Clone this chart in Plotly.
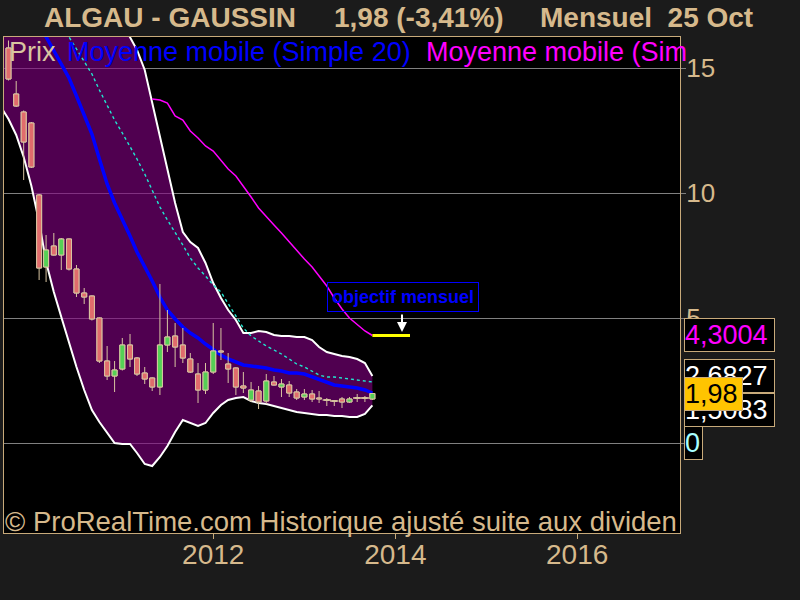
import plotly.graph_objects as go
import pandas as pd

# ---------------- data ----------------
candle_months = pd.date_range("2009-10-01", periods=49, freq="MS")
band_months = pd.date_range("2009-09-01", periods=50, freq="MS")

opens = [15.8, 13.96, 13.24, 12.8, 9.92, 7.04, 7.88, 7.52, 8.16, 6.96,
         6.0, 5.88, 5.0, 3.28, 2.68, 2.96, 3.92, 3.4, 2.8, 2.6,
         2.24, 3.92, 4.28, 3.92, 3.36, 2.76, 2.12, 2.84, 3.68, 3.16,
         3.0, 2.28, 1.72, 2.08, 1.68, 2.44, 2.24, 2.32, 2.04, 1.84,
         1.96, 1.8, 1.72, 1.68, 1.76, 1.64, 1.8, 1.8, 1.76]
highs = [16.1, 14.48, 13.3, 12.84, 9.96, 8.32, 8.4, 8.2, 8.18, 7.12,
         6.2, 5.9, 5.02, 3.88, 3.28, 4.2, 4.36, 3.44, 3.04, 2.62,
         6.36, 5.32, 4.8, 4.6, 3.6, 3.2, 3.2, 4.8, 4.6, 3.6,
         3.02, 2.84, 2.44, 2.28, 2.76, 2.68, 2.56, 2.48, 2.16, 2.16,
         2.12, 2.08, 1.8, 1.7, 1.84, 1.84, 1.96, 1.88, 2.0]
lows = [14.5, 13.44, 10.52, 11.0, 6.52, 6.44, 7.5, 6.92, 6.9, 5.84,
        5.56, 4.9, 3.2, 2.52, 2.04, 2.9, 3.04, 2.68, 2.36, 2.08,
        1.92, 3.64, 3.04, 3.2, 2.8, 1.6, 1.96, 2.76, 3.32, 2.4,
        1.92, 2.0, 1.64, 1.36, 1.56, 2.3, 1.84, 1.84, 1.72, 1.72,
        1.64, 1.6, 1.48, 1.48, 1.4, 1.6, 1.64, 1.64, 1.72]
closes = [14.56, 13.48, 12.04, 11.04, 7.0, 7.72, 7.52, 8.16, 6.96, 6.0,
          5.84, 4.96, 3.28, 2.68, 2.92, 3.92, 3.36, 2.76, 2.56, 2.24,
          3.92, 4.24, 3.84, 3.4, 2.84, 2.12, 2.84, 3.68, 3.64, 2.96,
          2.24, 2.2, 2.12, 1.64, 2.48, 2.32, 2.36, 2.0, 1.8, 1.96,
          1.76, 1.76, 1.72, 1.68, 1.64, 1.76, 1.8, 1.8, 1.98]

sma20 = [19.48, 18.94, 18.4, 17.86, 17.32, 16.78, 16.24, 15.72, 15.16, 14.6,
         13.88, 13.16, 12.36, 11.36, 10.36, 9.6, 8.96, 8.28, 7.64, 7.08,
         6.48, 5.84, 5.32, 4.96, 4.64, 4.4, 4.2, 3.96, 3.72, 3.52,
         3.36, 3.24, 3.12, 3.08, 3.04, 3.0, 2.92, 2.88, 2.8, 2.8,
         2.76, 2.64, 2.52, 2.4, 2.32, 2.28, 2.24, 2.2, 2.12, 2.0]
sma_long = [None] * 20 + [13.76, 13.72, 13.6, 13.08, 12.92, 12.48, 12.2, 11.88, 11.68, 11.32,
                          10.96, 10.68, 10.28, 9.84, 9.4, 9.08, 8.72, 8.4, 8.04, 7.72,
                          7.36, 7.04, 6.68, 6.28, 5.8, 5.36, 5.0, 4.72, 4.48, 4.3004]
dotted_ma = [20.74, 20.24, 19.74, 19.24, 18.74, 18.24, 17.74, 17.24, 16.74, 16.24,
             15.76, 15.28, 14.76, 14.12, 13.48, 12.92, 12.4, 11.88, 11.36, 10.76,
             10.08, 9.44, 8.92, 8.44, 7.92, 7.4, 7.0, 6.68, 6.32, 6.04,
             5.56, 5.08, 4.6, 4.28, 4.08, 3.88, 3.72, 3.56, 3.36, 3.16,
             3.04, 2.88, 2.72, 2.64, 2.64, 2.6, 2.56, 2.52, 2.48, 2.44]
upper_band = [24.6, 24.2, 23.8, 23.4, 23.0, 22.5, 22.0, 21.5, 21.0, 20.5,
              20.0, 19.5, 19.0, 18.45, 17.9, 17.35, 16.8, 16.24, 15.72, 14.92,
              13.64, 12.32, 11.0, 9.6, 8.44, 8.04, 7.8, 7.2, 6.4, 5.8,
              5.32, 4.92, 4.4, 4.4, 4.48, 4.44, 4.32, 4.28, 4.28, 4.24,
              4.24, 4.12, 3.84, 3.64, 3.56, 3.48, 3.44, 3.36, 3.2, 2.6827]
lower_band = [13.44, 12.96, 12.32, 11.44, 10.28, 8.84, 7.24, 6.04, 5.04, 4.0,
              3.04, 2.12, 1.32, 0.84, 0.4, 0.0, -0.04, -0.04, -0.4, -0.84,
              -0.92, -0.56, -0.12, 0.44, 0.92, 0.8, 0.68, 0.8, 1.2, 1.52,
              1.72, 1.8, 1.84, 1.68, 1.6, 1.56, 1.48, 1.4, 1.32, 1.24,
              1.2, 1.16, 1.12, 1.12, 1.08, 1.08, 1.04, 1.04, 1.16, 1.5083]

objective_dates = ["2013-10-01", "2014-03-01"]
objective_values = [4.3004, 4.3004]

y_tick_vals = [0, 5, 10, 15]
x_tick_vals = ["2012-01-01", "2014-01-01", "2016-01-01"]
x_tick_text = ["2012", "2014", "2016"]

last_price = "1,98"
title_parts = ["ALGAU - GAUSSIN", "1,98 (-3,41%)", "Mensuel  25 Oct"]

# ---------------- style ----------------
TAN = "#d6b98c"
EDGE = "#d8c4a0"
UP = "#55d055"
DOWN = "#e06c6c"
FONT = "Liberation Sans, Arial, sans-serif"
L, R, T, B = 4, 680, 37, 533
X_RANGE = ["2009-09-13", "2017-02-17"]
Y_RANGE = [-3.6, 16.24]
BODY_WIDTH_MS = 20 * 24 * 3600 * 1000


def px(x):
    return (x - L) / (R - L)


def py(y):
    return (B - y) / (B - T)


fig = go.Figure()

# band fill
fig.add_trace(go.Scatter(x=band_months, y=lower_band, mode="lines",
                         line=dict(width=0, color="rgba(0,0,0,0)"), showlegend=False, hoverinfo="skip"))
fig.add_trace(go.Scatter(x=band_months, y=upper_band, mode="lines", fill="tonexty",
                         fillcolor="rgba(129,0,129,0.62)",
                         line=dict(width=0, color="rgba(0,0,0,0)"), showlegend=False, hoverinfo="skip"))
# band lines
fig.add_trace(go.Scatter(x=band_months, y=upper_band, mode="lines",
                         line=dict(width=2, color="white"), showlegend=False))
fig.add_trace(go.Scatter(x=band_months, y=lower_band, mode="lines",
                         line=dict(width=2, color="white"), showlegend=False))
# long MA
fig.add_trace(go.Scatter(x=band_months, y=sma_long, mode="lines",
                         line=dict(width=1.5, color="#ff00ff"), showlegend=False))
# dotted MA
fig.add_trace(go.Scatter(x=band_months, y=dotted_ma, mode="lines",
                         line=dict(width=1.4, color="#20e8d0", dash="3px,3px"), showlegend=False))
# SMA 20
fig.add_trace(go.Scatter(x=band_months, y=sma20, mode="lines",
                         line=dict(width=3.5, color="#0000ff"), showlegend=False))
# objective line
fig.add_trace(go.Scatter(x=objective_dates, y=objective_values, mode="lines",
                         line=dict(width=3, color="#ffff00"), showlegend=False))

# candles (on an overlaid pair of axes so they draw above the band fill)
wick_x, wick_y = [], []
for d, lo, hi in zip(candle_months, lows, highs):
    wick_x += [d, d, None]
    wick_y += [lo, hi, None]
body_base = [min(o, c) for o, c in zip(opens, closes)]
body_len = [abs(c - o) for o, c in zip(opens, closes)]
body_col = [UP if c > o else DOWN for o, c in zip(opens, closes)]
doji_x = [d for d, o, c in zip(candle_months, opens, closes) if o == c]
doji_y = [c for o, c in zip(opens, closes) if o == c]

fig.add_trace(go.Bar(x=candle_months, y=body_len, base=body_base, width=BODY_WIDTH_MS,
                     marker=dict(color=body_col, line=dict(color=EDGE, width=1)),
                     xaxis="x2", yaxis="y2", showlegend=False))
fig.add_trace(go.Scatter(x=wick_x, y=wick_y, mode="lines", xaxis="x2", yaxis="y2",
                         line=dict(width=1, color=EDGE), showlegend=False, hoverinfo="skip"))
fig.add_trace(go.Bar(x=candle_months, y=body_len, base=body_base, width=BODY_WIDTH_MS,
                     marker=dict(color=body_col, line=dict(color=EDGE, width=1)),
                     xaxis="x3", yaxis="y3", showlegend=False))
fig.add_trace(go.Scatter(x=doji_x, y=doji_y, mode="markers", xaxis="x3", yaxis="y3",
                         marker=dict(symbol="line-ew", size=6, line=dict(width=1.5, color=EDGE)),
                         showlegend=False))

annotations = []
# title
for txt, xp in zip(title_parts, [42, 332, 538]):
    annotations.append(dict(text=txt, xref="paper", yref="paper", x=px(xp), y=py(18),
                            xanchor="left", yanchor="middle", showarrow=False,
                            font=dict(family=FONT, size=28, color=TAN, weight="bold")))
# legend
for txt, xp, col in [("Prix", 7, EDGE),
                     ("Moyenne mobile (Simple 20)", 65, "#0000ff"),
                     ("Moyenne mobile (Sim", 424, "#ff00ff")]:
    annotations.append(dict(text=txt, xref="paper", yref="paper", x=px(xp), y=py(52),
                            xanchor="left", yanchor="middle", showarrow=False,
                            font=dict(family=FONT, size=27, color=col)))
# copyright
annotations.append(dict(text="© ProRealTime.com Historique ajusté suite aux dividen",
                        xref="paper", yref="paper", x=px(3), y=py(521),
                        xanchor="left", yanchor="middle", showarrow=False,
                        font=dict(family=FONT, size=27.5, color=TAN)))
# objective box
annotations.append(dict(text="objectif mensuel", xref="paper", yref="paper",
                        x=px(402.5), y=py(297), xanchor="center", yanchor="middle",
                        showarrow=False, bordercolor="#0000ff", borderwidth=1, borderpad=4,
                        font=dict(family=FONT, size=18, color="#0000ff", weight="bold")))
annotations.append(dict(text="", xref="paper", yref="paper", x=px(402), y=py(332),
                        ax=0, ay=-19, showarrow=True, arrowhead=2, arrowsize=1,
                        arrowwidth=2, arrowcolor="white"))
# right-side value labels
xl = (684 - L) / (R - L)
for txt, yv, col, bg, w, ys in [("4,3004", sma_long[-1], "#ff00ff", "black", 89, 0),
                                ("2,6827", upper_band[-1], "white", "black", 89, 0),
                                ("1,5083", lower_band[-1], "white", "black", 89, -5),
                                ("0", 0, "#a8ffff", "black", 17, 0),
                                (last_price, closes[-1], "black", "#ffc400", 57, 0)]:
    annotations.append(dict(text=txt, xref="paper", yref="y", x=xl, y=yv, yshift=ys,
                            xanchor="left", yanchor="middle", showarrow=False,
                            width=w, height=32, align="left", borderpad=0,
                            bordercolor="#c8aa7a", borderwidth=1, bgcolor=bg,
                            font=dict(family=FONT, size=27, color=col)))

hidden_x = dict(type="date", range=X_RANGE, visible=False, showgrid=False, zeroline=False)
hidden_y = dict(range=Y_RANGE, visible=False, showgrid=False, zeroline=False)

fig.update_layout(
    width=800, height=600, autosize=False,
    margin=dict(l=L, r=800 - R, t=T, b=600 - B),
    paper_bgcolor="#1b1b1b", plot_bgcolor="black",
    annotations=annotations,
    showlegend=False,
    barmode="overlay",
    xaxis=dict(type="date", range=X_RANGE,
               tickvals=x_tick_vals, ticktext=x_tick_text, ticks="outside", ticklen=5,
               tickcolor="#c8aa7a", showgrid=False, zeroline=False, ticklabelstandoff=-9,
               showline=True, linecolor="#c8aa7a", linewidth=1, mirror=True,
               tickfont=dict(family=FONT, size=28, color=TAN)),
    yaxis=dict(side="right", range=Y_RANGE, tickvals=y_tick_vals, ticks="outside",
               ticklen=5, tickcolor="#808080", showgrid=True, gridcolor="#808080", gridwidth=1,
               zeroline=False, showline=True, linecolor="#c8aa7a", linewidth=1, mirror=True,
               ticklabelstandoff=-5,
               tickfont=dict(family=FONT, size=26, color=TAN)),
    xaxis2=dict(hidden_x, overlaying="x"),
    yaxis2=dict(hidden_y, overlaying="y"),
    xaxis3=dict(hidden_x, overlaying="x"),
    yaxis3=dict(hidden_y, overlaying="y"),
)

fig.write_html("out.html", config={"displayModeBar": False},
               post_script="document.body.style.margin='0';document.body.style.background='#1b1b1b';")
